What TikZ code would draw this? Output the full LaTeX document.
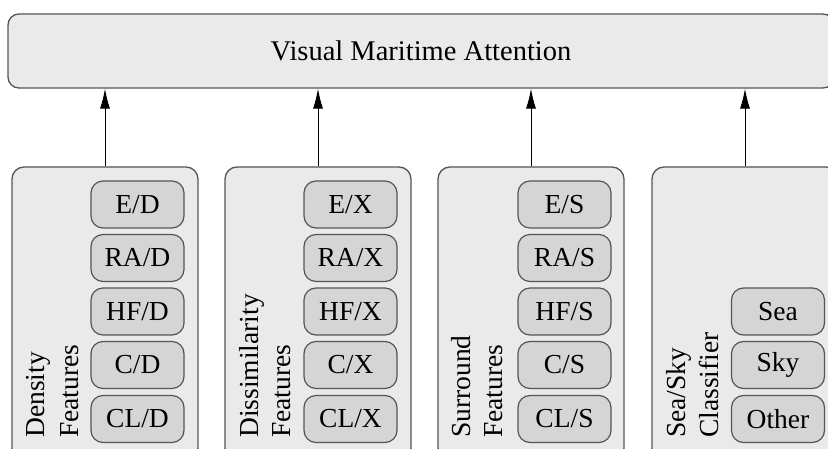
\documentclass[tikz,border=0pt]{standalone}
\usepackage{fontspec}
\setmainfont{Liberation Serif}
\usetikzlibrary{arrows.meta}
\definecolor{edge}{HTML}{555555}
\definecolor{panelfill}{HTML}{EAEAEA}
\definecolor{cellfill}{HTML}{D5D5D5}
\tikzset{
  txt/.style={font=\fontsize{27.5}{31}\selectfont},
  banner/.style={draw=edge, line width=1.3pt, fill=panelfill, rounded corners=11pt,
    minimum width=826pt, minimum height=74pt, inner sep=0pt,
    font=\fontsize{28.5}{32}\selectfont},
  panel/.style={draw=edge, line width=1.3pt, fill=panelfill, rounded corners=12pt,
    minimum width=186pt, minimum height=293pt, inner sep=0pt},
  cell/.style={draw=edge, line width=1.2pt, fill=cellfill, rounded corners=12pt,
    minimum width=93pt, minimum height=47pt, inner sep=0pt, txt},
  sidelabel/.style={rotate=90, anchor=base west, inner sep=0pt, txt},
  feed/.style={draw=black, line width=1pt, -{Latex[length=20pt,width=10pt]}}
}
\begin{document}
\begin{tikzpicture}[x=1pt,y=-1pt]
\useasboundingbox (0,0) rectangle (828,449);
\fill[white] (0,0) rectangle (828,449);
\clip (0,0) rectangle (828,449);

% top block
\node[banner] (top) at (421,51) {Visual Maritime Attention};

% feature panels
\node[panel] (den) at (105,313.5) {};
\node[panel] (dis) at (318,313.5) {};
\node[panel] (sur) at (531,313.5) {};
\node[panel] (sea) at (745,313.5) {};

% panel titles
\node[sidelabel] (denA) at (45,438) {Density};
\node[sidelabel] (denB) at (78,438) {Features};
\node[sidelabel] (disA) at (258,438) {Dissimilarity};
\node[sidelabel] (disB) at (290,438) {Features};
\node[sidelabel] (surA) at (470,438) {Surround};
\node[sidelabel] (surB) at (502,438) {Features};
\node[sidelabel] (seaA) at (685,438) {Sea/Sky};
\node[sidelabel] (seaB) at (718,438) {Classifier};

% density cells
\node[cell] (d1) at (137.5,204.5) {E/D};
\node[cell] (d2) at (137.5,258) {RA/D};
\node[cell] (d3) at (137.5,311.5) {HF/D};
\node[cell] (d4) at (137.5,365) {C/D};
\node[cell] (d5) at (137.5,419) {CL/D};

% dissimilarity cells
\node[cell] (x1) at (350.5,204.5) {E/X};
\node[cell] (x2) at (350.5,258) {RA/X};
\node[cell] (x3) at (350.5,311.5) {HF/X};
\node[cell] (x4) at (350.5,365) {C/X};
\node[cell] (x5) at (350.5,419) {CL/X};

% surround cells
\node[cell] (s1) at (564.5,204.5) {E/S};
\node[cell] (s2) at (564.5,258) {RA/S};
\node[cell] (s3) at (564.5,311.5) {HF/S};
\node[cell] (s4) at (564.5,365) {C/S};
\node[cell] (s5) at (564.5,419) {CL/S};

% classifier cells
\node[cell] (k1) at (778,311.5) {Sea};
\node[cell] (k2) at (778,365) {Sky};
\node[cell] (k3) at (778,419) {Other};

% connectors into the top block
\foreach \p in {den,dis,sur,sea}
  \draw[feed] (\p.north) -- (\p.north |- top.south);
\end{tikzpicture}
\end{document}
